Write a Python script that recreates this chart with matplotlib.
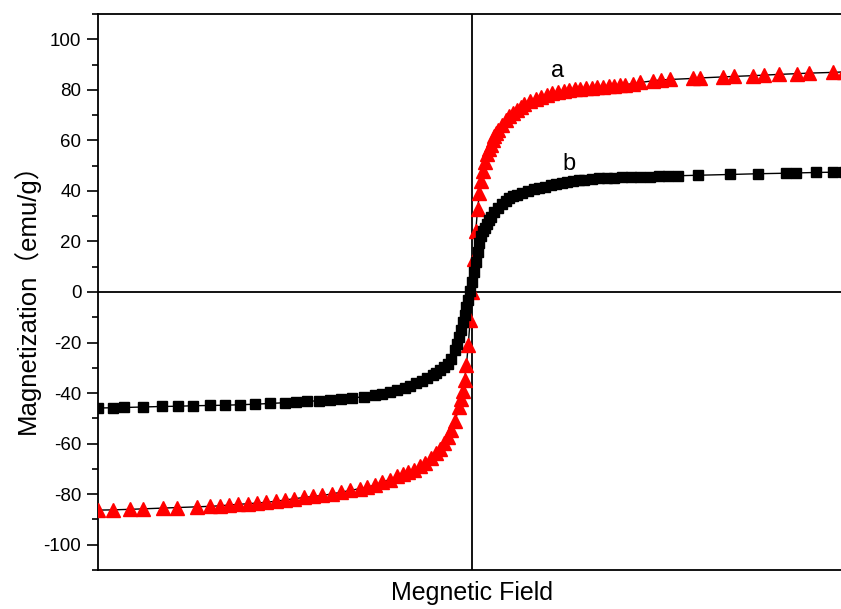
import matplotlib
matplotlib.use('Agg')
import matplotlib.pyplot as plt
from matplotlib.ticker import MultipleLocator

plt.rcParams['font.family'] = ['Liberation Sans', 'Noto Sans CJK SC', 'DejaVu Sans']
plt.rcParams['axes.unicode_minus'] = False

# sample a (red triangles)
a_field = [-10, -9.6, -9.15, -8.8, -8.25, -7.9, -7.35, -7.0, -6.75, -6.5, -6.25, -6.0,
           -5.75, -5.5, -5.25, -5.0, -4.75, -4.5, -4.25, -4.0, -3.75, -3.5, -3.25, -3.0,
           -2.8, -2.6, -2.4, -2.2, -2.0, -1.85, -1.7, -1.55, -1.4, -1.25, -1.1, -0.95,
           -0.85, -0.75, -0.65, -0.55, -0.45, -0.35, -0.3, -0.25, -0.2, -0.15, -0.1, -0.05,
           0, 0.05, 0.1, 0.15, 0.2, 0.25, 0.3, 0.35, 0.4, 0.45, 0.5, 0.55, 0.6, 0.65,
           0.7, 0.8, 0.9, 1.0, 1.1, 1.2, 1.3, 1.4, 1.55, 1.7, 1.85, 2.0, 2.15, 2.3,
           2.45, 2.6, 2.75, 2.9, 3.05, 3.2, 3.35, 3.5, 3.65, 3.8, 3.95, 4.1, 4.3, 4.5,
           4.85, 5.05, 5.3, 5.9, 6.1, 6.7, 7.0, 7.5, 7.8, 8.2, 8.7, 9.0, 9.65, 9.95]
a_mag = [-86.3, -86.2, -86.0, -85.8, -85.5, -85.3, -85.0, -84.8, -84.6, -84.3, -84.0, -83.8,
         -83.5, -83.2, -82.8, -82.3, -81.8, -81.3, -80.9, -80.5, -79.9, -79.2, -78.5, -77.8,
         -77.2, -76.4, -75.2, -74.2, -73.0, -72.2, -71.3, -70.3, -69.0, -67.5, -65.8, -63.8,
         -62.0, -59.8, -57.2, -54.5, -51.0, -45.5, -42.5, -39.0, -35.0, -29.0, -21.0, -11.0,
         0, 13, 24, 33, 39, 44, 48, 51.5, 54.5, 56.5, 58.3, 60, 61.6, 63,
         64.2, 66.2, 68, 69.6, 71, 72.2, 73.3, 74.3, 75.5, 76.5, 77.3, 78, 78.6, 79.1,
         79.5, 79.9, 80.2, 80.5, 80.7, 80.9, 81.1, 81.3, 81.5, 81.7, 81.9, 82.1, 82.4, 82.9,
         83.6, 83.9, 84.1, 84.5, 84.7, 85.1, 85.3, 85.6, 85.8, 86.1, 86.4, 86.6, 86.9, 87.1]

# sample b (black squares)
b_field = [-10, -9.6, -9.3, -8.8, -8.3, -7.85, -7.45, -7.0, -6.6, -6.2, -5.8, -5.4, -5.0,
           -4.7, -4.4, -4.1, -3.8, -3.5, -3.2, -2.9, -2.6, -2.4, -2.2, -2.0, -1.8, -1.65,
           -1.5, -1.35, -1.2, -1.05, -0.95, -0.85, -0.75, -0.65, -0.55, -0.45, -0.4, -0.35,
           -0.3, -0.25, -0.2, -0.15, -0.1, -0.05,
           0, 0.05, 0.1, 0.15, 0.2, 0.25, 0.3, 0.35, 0.4, 0.45, 0.5, 0.6, 0.7, 0.8, 0.9,
           1.0, 1.1, 1.2, 1.35, 1.5, 1.65, 1.8, 1.95, 2.1, 2.25, 2.4, 2.55, 2.7, 2.85, 3.0,
           3.2, 3.4, 3.6, 3.8, 4.0, 4.25, 4.5, 4.75, 5.0, 5.25, 5.5, 6.05, 6.9, 7.65, 8.4,
           8.65, 9.2, 9.65, 9.95]
b_mag = [-45.9, -45.8, -45.7, -45.5, -45.3, -45.2, -45.0, -44.9, -44.8, -44.6, -44.4, -44.1, -43.8,
         -43.6, -43.3, -43.0, -42.8, -42.5, -42.0, -41.4, -40.8, -40.2, -39.6, -38.9, -38.0, -37.2,
         -36.2, -35.2, -34.2, -33.0, -32.0, -31.0, -29.8, -28.5, -26.5, -23.0, -20.5, -18.0,
         -15.0, -12.0, -9.0, -6.0, -3.0, 0.5,
         4, 8, 12, 16, 19.5, 22, 24, 25.5, 27, 28.5, 29.7, 31.5, 33.3, 34.8, 36,
         37, 37.8, 38.5, 39.3, 40, 40.6, 41.2, 41.7, 42.2, 42.7, 43.1, 43.5, 43.9, 44.2, 44.5,
         44.8, 45.0, 45.2, 45.3, 45.4, 45.5, 45.6, 45.7, 45.8, 45.9, 46.0, 46.2, 46.5, 46.8, 47.0,
         47.1, 47.3, 47.4, 47.5]

fig = plt.figure(figsize=(8.41, 6.09), dpi=100)
ax = fig.add_axes([98/841, 39/609, 748/841, 556/609])

ax.plot(a_field, a_mag, color='black', lw=1, marker='^', markersize=9.5,
        markerfacecolor='red', markeredgecolor='red', zorder=3)
ax.plot(b_field, b_mag, color='black', lw=1, marker='s', markersize=7,
        markerfacecolor='black', markeredgecolor='black', zorder=3)

ax.axhline(0, color='black', lw=1.3, zorder=2)
ax.axvline(0, color='black', lw=1.3, zorder=2)

ax.text(2.3, 85, 'a', fontsize=17, ha='center', va='baseline')
ax.text(2.6, 48.3, 'b', fontsize=17, ha='center', va='baseline')

ax.set_xlim(-10, 10)
ax.set_ylim(-110, 110)
ax.set_xticks([])
ax.yaxis.set_major_locator(MultipleLocator(20))
ax.yaxis.set_minor_locator(MultipleLocator(10))
ax.tick_params(axis='y', which='major', direction='out', length=8, width=1.2,
               labelsize=13.5, pad=4)
ax.tick_params(axis='y', which='minor', direction='out', length=4, width=1.2)
for s in ax.spines.values():
    s.set_linewidth(1.3)

ax.set_xlabel('Megnetic Field', fontsize=18, labelpad=8)
ax.set_ylabel('Magnetization（emu/g）', fontsize=18.5)
ax.yaxis.set_label_coords(-0.078, 0.5)

fig.savefig('out.png', dpi=100)
